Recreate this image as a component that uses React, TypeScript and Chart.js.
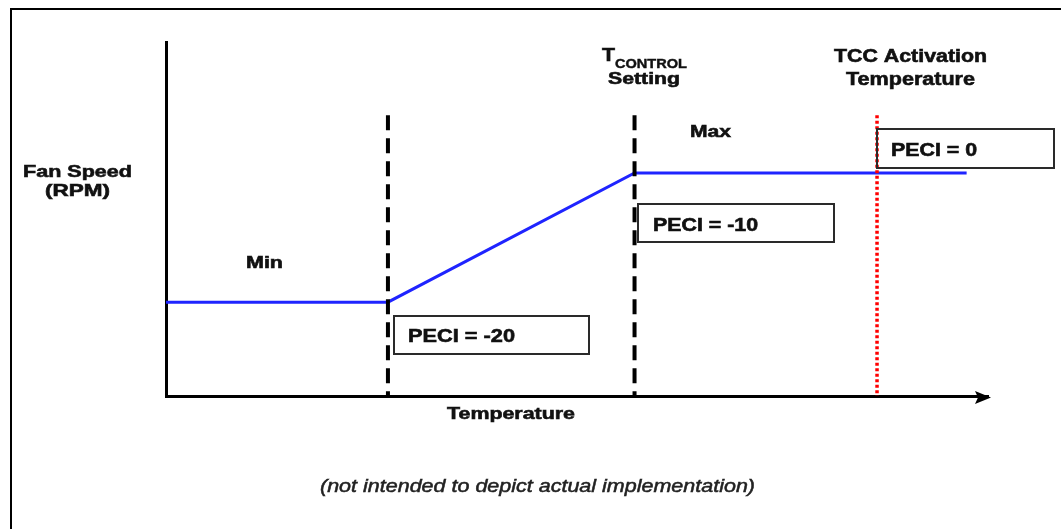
import { useEffect, useRef } from 'react';
import { Chart, registerables } from 'chart.js';

Chart.register(...registerables);

// fan curve (temperature in arbitrary units 0-100, fan speed 0-100)
const curveTemp = [0, 27, 57, 97.4];
const curveSpeed = [26.5, 26.5, 63, 63];

// the two dashed thresholds (PECI = -20, T_CONTROL) and the TCC activation point
const thresholdTemp = [27, 57];
const tccTemp = 86.5;
const markerTop = 79.3;

const peciLabels = ['PECI = -20', 'PECI = -10', 'PECI = 0'];

const BOLD = 'bold 17px "Liberation Sans", Arial, sans-serif';
const BOLD18 = 'bold 18px "Liberation Sans", Arial, sans-serif';

// text is drawn a little wider (and heavier) than the font, like the picture
function stretchText(
  ctx: CanvasRenderingContext2D,
  text: string,
  left: number,
  baseline: number,
  width: number,
  font = BOLD,
  weight = 0.6
) {
  ctx.font = font;
  const w = ctx.measureText(text).width;
  ctx.save();
  ctx.translate(left, baseline);
  ctx.scale(width / w, 1);
  ctx.textAlign = 'left';
  ctx.textBaseline = 'alphabetic';
  ctx.fillText(text, 0, 0);
  if (weight > 0) {
    ctx.strokeStyle = ctx.fillStyle;
    ctx.lineWidth = weight;
    ctx.strokeText(text, 0, 0);
  }
  ctx.restore();
}

const decorations = {
  id: 'decorations',
  beforeDraw(chart: Chart) {
    const ctx = chart.ctx;
    ctx.save();
    ctx.fillStyle = '#fff';
    ctx.fillRect(0, 0, chart.width, chart.height);
    // outer frame (left and top edges)
    ctx.strokeStyle = '#000';
    ctx.lineWidth = 2;
    ctx.beginPath();
    ctx.moveTo(11, chart.height);
    ctx.lineTo(11, 9);
    ctx.lineTo(chart.width, 9);
    ctx.stroke();
    ctx.restore();
  },
  afterDraw(chart: Chart) {
    const ctx = chart.ctx;
    const area = chart.chartArea;
    ctx.save();

    // arrow head on the temperature axis
    const ay = area.bottom + 1.5;
    ctx.fillStyle = '#000';
    ctx.beginPath();
    ctx.moveTo(area.right + 3, ay);
    ctx.lineTo(area.right - 13, ay - 6.5);
    ctx.lineTo(area.right - 10, ay);
    ctx.lineTo(area.right - 13, ay + 6.5);
    ctx.closePath();
    ctx.fill();

    // PECI boxes
    const boxes = [
      { x: 394, y: 316, w: 195, h: 38, tx: 408, tb: 342, tw: 107 },
      { x: 638, y: 204, w: 196, h: 38, tx: 653, tb: 231, tw: 105 },
      { x: 877, y: 129, w: 177, h: 39, tx: 891, tb: 156, tw: 86 },
    ];
    ctx.fillStyle = '#111';
    boxes.forEach((b, i) => {
      ctx.strokeStyle = '#2a2a2a';
      ctx.lineWidth = 2;
      ctx.strokeRect(b.x, b.y, b.w, b.h);
      stretchText(ctx, peciLabels[i], b.tx, b.tb, b.tw, BOLD18);
    });

    // labels
    stretchText(ctx, 'Fan Speed', 23, 177, 109);
    stretchText(ctx, '(RPM)', 45, 196, 65);
    stretchText(ctx, 'Min', 246, 268, 37);
    stretchText(ctx, 'Max', 690, 137, 41);
    stretchText(ctx, 'T', 602, 61, 13, BOLD18);
    stretchText(ctx, 'CONTROL', 615, 68, 72, 'bold 12px "Liberation Sans", Arial, sans-serif', 0.4);
    stretchText(ctx, 'Setting', 608, 84, 72);
    stretchText(ctx, 'TCC Activation', 834, 62, 153, BOLD18);
    stretchText(ctx, 'Temperature', 846, 85, 129, BOLD18);
    stretchText(ctx, 'Temperature', 447, 419, 128);
    ctx.fillStyle = '#222';
    stretchText(
      ctx,
      '(not intended to depict actual implementation)',
      320,
      492,
      435,
      'italic 18px "Liberation Sans", Arial, sans-serif',
      0.5
    );
    ctx.restore();
  },
};

export default function App() {
  const canvasRef = useRef<HTMLCanvasElement>(null);
  const chartRef = useRef<Chart | null>(null);

  useEffect(() => {
    if (!canvasRef.current) return;
    if (chartRef.current) chartRef.current.destroy();

    const vline = (x: number) => [
      { x, y: markerTop },
      { x, y: 0 },
    ];

    chartRef.current = new Chart(canvasRef.current, {
      type: 'scatter',
      data: {
        datasets: [
          ...thresholdTemp.map((t) => ({
            label: 'threshold',
            data: vline(t),
            showLine: true,
            borderColor: '#000',
            borderWidth: 4,
            borderDash: [15, 8],
            pointRadius: 0,
          })),
          {
            label: 'TCC',
            data: vline(tccTemp),
            showLine: true,
            borderColor: '#ff0000',
            borderWidth: 3.5,
            borderDash: [3, 2.5],
            pointRadius: 0,
          },
          {
            label: 'Fan Speed',
            data: curveTemp.map((x, i) => ({ x, y: curveSpeed[i] })),
            showLine: true,
            borderColor: '#1f24ff',
            borderWidth: 3,
            pointRadius: 0,
            tension: 0,
          },
        ],
      },
      options: {
        animation: false,
        responsive: true,
        maintainAspectRatio: false,
        layout: { padding: { left: 166, top: 42, right: 73, bottom: 133 } },
        plugins: {
          legend: { display: false },
          tooltip: { enabled: false },
        },
        scales: {
          x: {
            type: 'linear',
            min: 0,
            max: 100,
            ticks: { display: false },
            grid: { display: false, drawTicks: false },
            border: { display: true, color: '#000', width: 3 },
          },
          y: {
            type: 'linear',
            min: 0,
            max: 100,
            ticks: { display: false },
            grid: { display: false, drawTicks: false },
            border: { display: true, color: '#000', width: 3 },
          },
        },
      },
      plugins: [decorations],
    });

    return () => {
      if (chartRef.current) {
        chartRef.current.destroy();
        chartRef.current = null;
      }
    };
  }, []);

  return (
    <div style={{ position: 'absolute', left: 0, top: 0, width: 1061, height: 529 }}>
      <canvas ref={canvasRef}></canvas>
    </div>
  );
}
